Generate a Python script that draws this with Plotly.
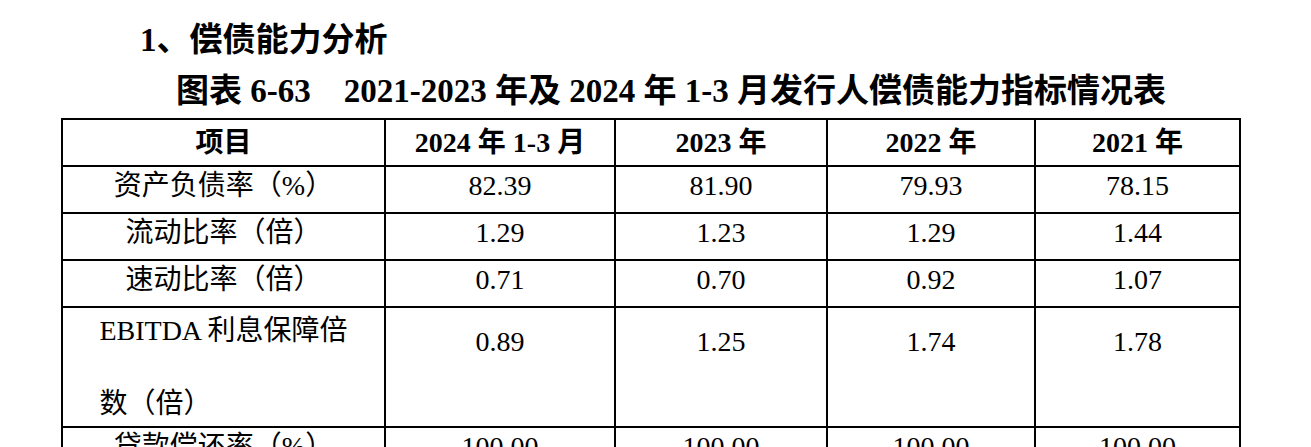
import plotly.graph_objects as go

headers = ["项目", "2024 年 1-3 月", "2023 年", "2022 年", "2021 年"]
items = ["资产负债率（%）", "流动比率（倍）", "速动比率（倍）", "EBITDA 利息保障倍<br> <br>数（倍）", "贷款偿还率（%）"]
v2024q1 = ["82.39", "1.29", "0.71", "0.89", "100.00"]
v2023 = ["81.90", "1.23", "0.70", "1.25", "100.00"]
v2022 = ["79.93", "1.29", "0.92", "1.74", "100.00"]
v2021 = ["78.15", "1.44", "1.07", "1.78", "100.00"]

def mid(col):
    # the tall 4th row: value sits on its middle line
    return [v if i != 3 else "<br>" + v for i, v in enumerate(col)]

W, H = 1311, 447
font = "Liberation Serif, Noto Sans CJK SC"

fig = go.Figure(go.Table(
    domain=dict(x=[54 / W, 1232 / W], y=[0, 1 - 111 / H]),
    columnwidth=[323, 230, 212, 208, 205],
    header=dict(values=["<b>%s</b>" % h for h in headers],
                height=46, align="center",
                font=dict(family=font, size=28, color="black"),
                line=dict(color="black", width=1.5), fill=dict(color="white")),
    cells=dict(values=[items, mid(v2024q1), mid(v2023), mid(v2022), mid(v2021)],
               height=47, align="center",
               font=dict(family=font, size=28, color="black"),
               line=dict(color="black", width=1.5), fill=dict(color="white")),
))
fig.add_annotation(text="<b>1、偿债能力分析</b>", x=130 / W, y=1 - 32 / H, xref="paper", yref="paper",
                   xanchor="left", yanchor="middle", showarrow=False,
                   font=dict(family=font, size=33, color="black"))
fig.add_annotation(text="<b>图表 6-63　2021-2023 年及 2024 年 1-3 月发行人偿债能力指标情况表</b>",
                   x=663 / W, y=1 - 83 / H, xref="paper", yref="paper",
                   xanchor="center", yanchor="middle", showarrow=False,
                   font=dict(family=font, size=33, color="black"))
fig.update_layout(width=W, height=H, margin=dict(l=0, r=0, t=0, b=0),
                  paper_bgcolor="white", plot_bgcolor="white")
fig.write_html("out.html")
